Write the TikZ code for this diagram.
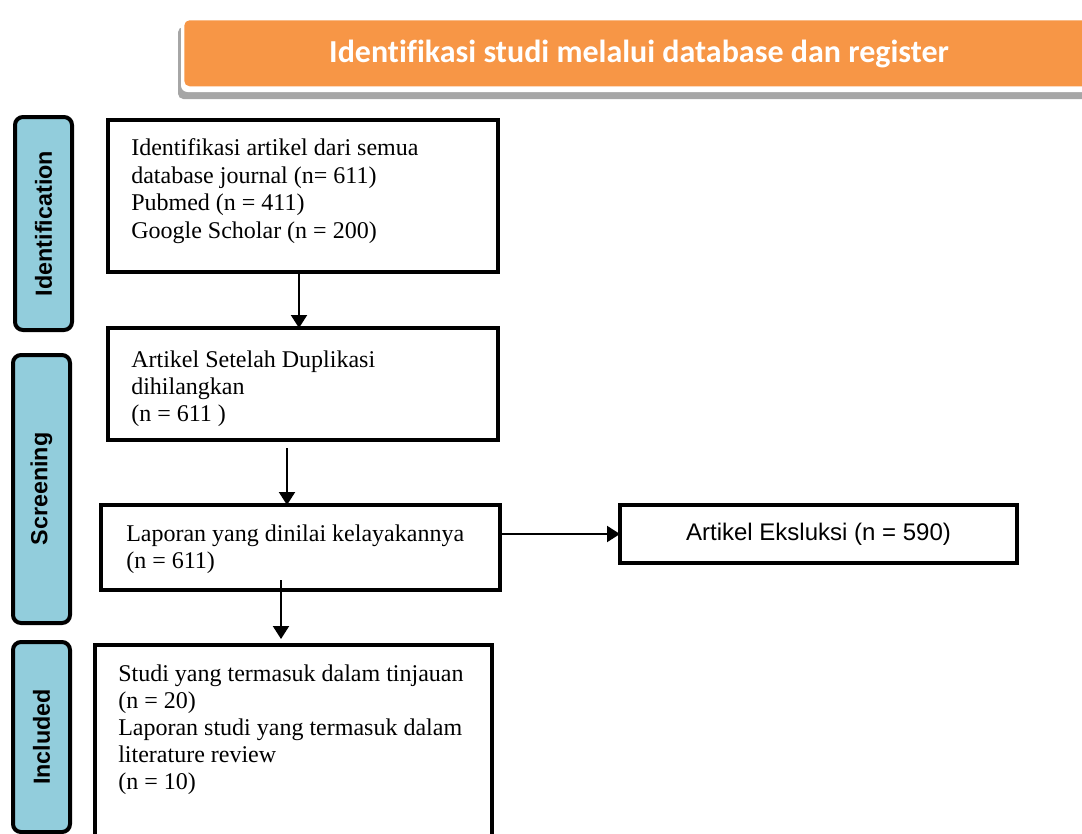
\documentclass[tikz,border=0pt]{standalone}
\usepackage{fontspec}
\setmainfont[Ligatures=NoCommon]{Liberation Serif}
\newfontfamily\arialf{Liberation Sans}
\newfontfamily\calf[Ligatures=NoCommon]{Carlito}
\usetikzlibrary{arrows.meta,calc}
\definecolor{hdrorange}{HTML}{F79646}
\definecolor{sideblue}{HTML}{92CDDC}
\definecolor{shadowgray}{HTML}{A6A6A6}
\begin{document}
\begin{tikzpicture}[x=0.75pt,y=-0.75pt,
  box/.style={draw=black,line width=3.4pt,fill=white,inner sep=0pt,outer sep=0pt},
  side/.style={draw=black,line width=3pt,fill=sideblue,rounded corners=6pt,inner sep=0pt},
  sidetxt/.style={font=\arialf\bfseries\fontsize{17.5}{20}\selectfont,rotate=90},
  bodytxt/.style={font=\fontsize{18}{20.25}\selectfont,align=left,anchor=base west,inner sep=0pt},
  arr/.style={line width=1.5pt,-{Triangle[length=9.75pt,width=12pt]}}]
\clip (0,0) rectangle (1082,833);
\useasboundingbox (0,0) rectangle (1082,833);
% header
\fill[shadowgray,rounded corners=4pt] (178,27) rectangle (1100,99);
\fill[white,rounded corners=5pt] (181,17) rectangle (1100,92);
\node[fill=hdrorange,rounded corners=4pt,minimum width=917*0.75pt,minimum height=66*0.75pt,anchor=north west,inner sep=0pt] (hdr) at (184,20) {};
\node[font=\calf\bfseries\fontsize{24}{26}\selectfont,text=white,anchor=base] (hdrtxt) at (639,62) {Identifikasi studi melalui database dan register};
% side labels
\node[side,minimum width=57*0.75pt,minimum height=213*0.75pt,anchor=north west] (sid) at (13,115) {};
\node[sidetxt] (sidt) at (sid.center) {Identification};
\node[side,minimum width=57*0.75pt,minimum height=268*0.75pt,anchor=north west] (ssc) at (11,353) {};
\node[sidetxt] (sst) at (ssc.center) {Screening};
\node[side,minimum width=57*0.75pt,minimum height=190*0.75pt,anchor=north west] (sin) at (11,640) {};
\node[sidetxt] (sit) at (sin.center) {Included};
% boxes
\node[box,minimum width=390*0.75pt,minimum height=152*0.75pt,anchor=north west] (b1) at (108,120) {};
\node[bodytxt,font=\fontsize{18}{20.6}\selectfont] (t1) at (131,238) {Identifikasi artikel dari semua\\database journal (n= 611)\\Pubmed (n = 411)\\Google Scholar (n = 200)};
\node[box,minimum width=390*0.75pt,minimum height=112*0.75pt,anchor=north west] (b2) at (108,328) {};
\node[bodytxt] (t2) at (131,421) {Artikel Setelah Duplikasi\\dihilangkan\\(n = 611 )};
\node[box,minimum width=399*0.75pt,minimum height=85*0.75pt,anchor=north west] (b3) at (101,505) {};
\node[bodytxt] (t3) at (126,568) {Laporan yang dinilai kelayakannya\\(n = 611)};
\node[box,minimum width=397*0.75pt,minimum height=58*0.75pt,anchor=north west,font=\arialf\fontsize{18}{20}\selectfont] (b4) at (620,505) {Artikel Eksluksi (n = 590)};
\node[box,minimum width=397*0.75pt,minimum height=230*0.75pt,anchor=north west] (b5) at (95,645) {};
\node[bodytxt] (t5) at (118,789) {Studi yang termasuk dalam tinjauan\\(n = 20)\\Laporan studi yang termasuk dalam\\literature review\\(n = 10)};
% connectors
\coordinate (c1) at (299,0);
\coordinate (c2) at (287,0);
\coordinate (c3) at (281,0);
\draw[arr] (b1.south -| c1) -- (b2.north -| c1);
\draw[arr] ($(b2.south -| c2)+(0,8)$) -- (b3.north -| c2);
\draw[arr] ($(b3.south -| c3)+(0,-10)$) -- ($(b5.north -| c3)+(0,-6)$);
\draw[arr] (b3.east |- b4.west) -- (b4.west);
\end{tikzpicture}
\end{document}
